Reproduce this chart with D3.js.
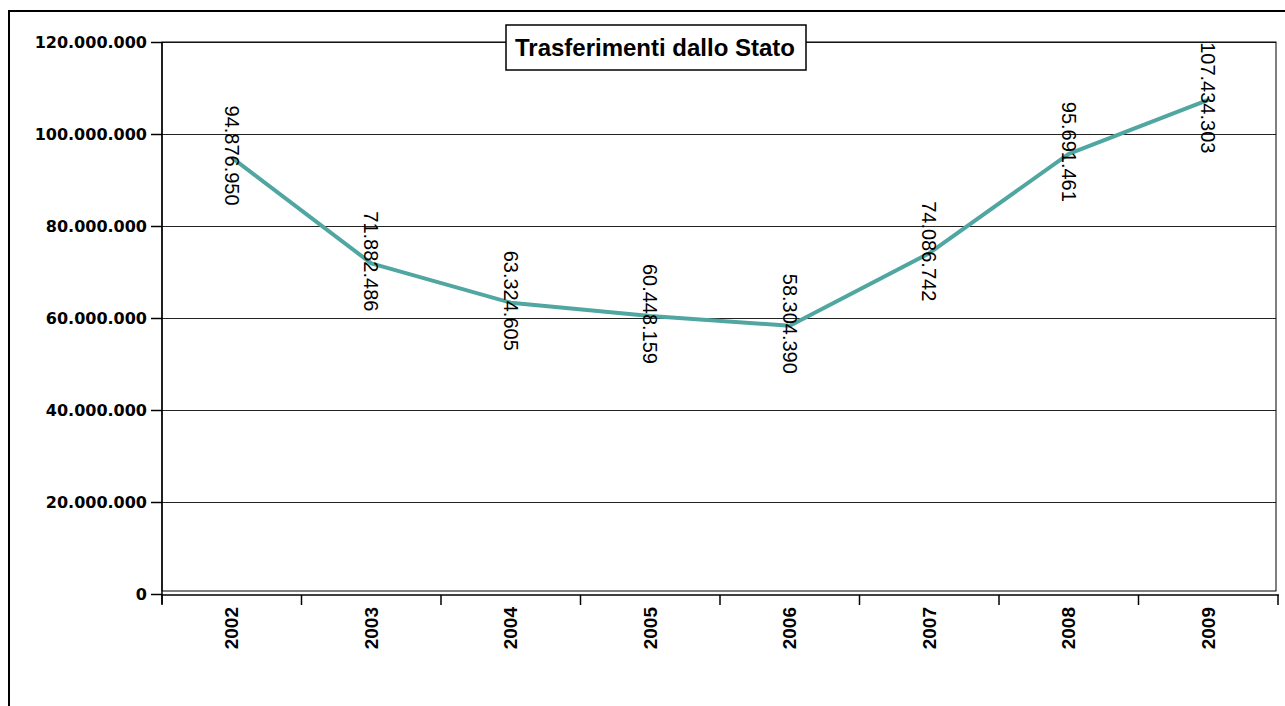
<!DOCTYPE html>
<html lang="it">

<head>
  <meta charset="UTF-8">
  <title>Trasferimenti dallo Stato</title>
  <script src="https://d3js.org/d3.v7.min.js"></script>
  <style>
    body { margin: 0; background: #fff; }
    svg { display: block; }
    .grid line { stroke: #222; stroke-width: 1; }
    .grid path { display: none; }
    .line { fill: none; stroke: rgb(80, 166, 160); stroke-width: 4; stroke-linejoin: round; }
    .ylab { font-family: "DejaVu Sans", sans-serif; font-weight: bold; font-size: 16px; }
    .xlab { font-family: "Liberation Sans", Arial, sans-serif; font-weight: bold; font-size: 19px; }
    .vlab { font-family: "Liberation Sans", Arial, sans-serif; font-size: 20px; }
    .title { font-family: "Liberation Sans", Arial, sans-serif; font-weight: bold; font-size: 24px; }
  </style>
</head>

<body>
  <svg width="1285" height="706"></svg>

  <script>
    const years = ['2002', '2003', '2004', '2005', '2006', '2007', '2008', '2009'];
    const values = [94876950, 71882486, 63324605, 60448159, 58304390, 74086742, 95691461, 107434303];
    const yTicks = [0, 20000000, 40000000, 60000000, 80000000, 100000000, 120000000];

    const data = years.map((y, i) => ({ year: y, value: values[i] }));

    const svg = d3.select('svg');
    const plotL = 162, plotR = 1278, plotT = 42, plotB = 594;

    // italian style thousands: 120.000.000
    const fmt = d3.formatLocale({ decimal: ',', thousands: '.', grouping: [3], currency: ['€', ''] }).format(',d');

    const x = d3.scaleBand().domain(years).range([plotL, plotR]);
    const y = d3.scaleLinear().domain([0, 120000000]).range([plotB, plotT]);

    // outer frame
    svg.append('rect')
      .attr('x', 9).attr('y', 11)
      .attr('width', 1400).attr('height', 900)
      .attr('fill', 'none').attr('stroke', '#000').attr('stroke-width', 2);

    // gridlines
    svg.append('g')
      .attr('class', 'grid')
      .attr('transform', `translate(${plotL},0)`)
      .call(d3.axisRight(y).tickValues(yTicks.slice(1)).tickSize(plotR - plotL - 2).tickFormat(''));

    // plot frame
    svg.append('rect')
      .attr('x', plotL).attr('y', plotT)
      .attr('width', plotR - plotL - 2).attr('height', plotB - 3 - plotT)
      .attr('fill', 'none').attr('stroke', '#000').attr('stroke-width', 1);

    // y axis
    const yAxis = svg.append('g')
      .attr('transform', `translate(${plotL},0)`)
      .call(d3.axisLeft(y).tickValues(yTicks).tickSize(11).tickPadding(4).tickFormat(fmt));
    yAxis.select('.domain').attr('d', `M0,${plotT}V${plotB + 10}`).attr('stroke', '#000').attr('stroke-width', 1.5);
    yAxis.selectAll('.tick line').attr('stroke', '#000').attr('stroke-width', 1.5);
    yAxis.selectAll('text').attr('class', 'ylab').attr('fill', '#000');

    // x axis with ticks at band edges
    const xEdge = d3.scaleLinear().domain([0, years.length]).range([plotL, plotR]);
    const xAxis = svg.append('g').attr('transform', `translate(0,${plotB + 1})`);
    xAxis.append('line')
      .attr('x1', plotL).attr('x2', plotR + 1)
      .attr('stroke', '#000').attr('stroke-width', 1.5);
    xAxis.selectAll('.xt')
      .data(d3.range(years.length + 1))
      .enter().append('line')
      .attr('x1', d => xEdge(d)).attr('x2', d => xEdge(d))
      .attr('y1', 0).attr('y2', 10)
      .attr('stroke', '#000').attr('stroke-width', 1.5);
    xAxis.selectAll('.xlab')
      .data(years)
      .enter().append('text')
      .attr('class', 'xlab')
      .attr('transform', d => `translate(${x(d) + x.bandwidth() / 2},12) rotate(-90)`)
      .attr('text-anchor', 'end')
      .attr('dy', '0.35em')
      .text(d => d);

    // line
    const line = d3.line()
      .x(d => x(d.year) + x.bandwidth() / 2)
      .y(d => y(d.value));

    svg.append('path')
      .datum(data)
      .attr('class', 'line')
      .attr('d', line);

    // value labels
    svg.selectAll('.vlab')
      .data(data)
      .enter().append('text')
      .attr('class', 'vlab')
      .attr('transform', d => `translate(${x(d.year) + x.bandwidth() / 2},${y(d.value) - 2}) rotate(90)`)
      .attr('text-anchor', 'middle')
      .attr('dy', '0.35em')
      .text(d => fmt(d.value));

    // title box
    const tg = svg.append('g');
    tg.append('rect')
      .attr('x', 506).attr('y', 25)
      .attr('width', 300).attr('height', 45)
      .attr('fill', '#fff').attr('stroke', '#000').attr('stroke-width', 1.5);
    tg.append('text')
      .attr('class', 'title')
      .attr('x', 655).attr('y', 48)
      .attr('text-anchor', 'middle')
      .attr('dy', '0.35em')
      .text('Trasferimenti dallo Stato');
  </script>
</body>

</html>
